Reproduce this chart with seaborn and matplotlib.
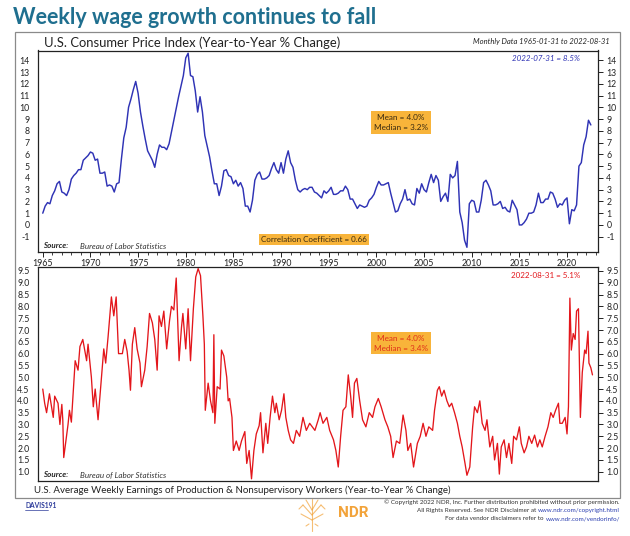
import numpy as np
import pandas as pd
import matplotlib
matplotlib.use("Agg")
import matplotlib.pyplot as plt
import seaborn as sns
from matplotlib.patches import Rectangle
from matplotlib.lines import Line2D

# ---------------- data ----------------
cpi_by_year = {
    1965: [1.0, 1.6, 1.9, 1.8], 1966: [2.5, 2.9, 3.5, 3.7], 1967: [2.8, 2.7, 2.5, 3.0],
    1968: [3.9, 4.2, 4.4, 4.7], 1969: [4.7, 5.5, 5.7, 5.9], 1970: [6.2, 6.1, 5.5, 5.6],
    1971: [4.4, 4.4, 4.5, 3.3], 1972: [3.4, 3.3, 2.8, 3.5], 1973: [3.6, 5.6, 7.4, 8.3],
    1974: [10.0, 10.7, 11.5, 12.2], 1975: [11.2, 9.6, 8.4, 7.3], 1976: [6.3, 5.9, 5.5, 4.9],
    1977: [6.0, 6.8, 6.6, 6.6], 1978: [6.4, 6.9, 7.9, 8.9], 1979: [9.9, 10.9, 11.8, 12.7],
    1980: [14.2, 14.6, 12.7, 12.6], 1981: [11.4, 9.6, 10.9, 9.6], 1982: [7.6, 6.7, 5.8, 4.6],
    1983: [3.5, 3.5, 2.5, 3.3], 1984: [4.6, 4.7, 4.2, 4.1], 1985: [3.5, 3.8, 3.3, 3.6],
    1986: [3.1, 1.6, 1.6, 1.1], 1987: [2.1, 3.8, 4.3, 4.5], 1988: [3.9, 3.9, 4.0, 4.2],
    1989: [4.8, 5.3, 4.7, 4.4], 1990: [5.3, 4.4, 5.6, 6.3], 1991: [5.3, 4.9, 3.8, 3.0],
    1992: [2.8, 3.0, 3.1, 3.0], 1993: [3.2, 3.2, 2.8, 2.7], 1994: [2.5, 2.3, 2.9, 2.7],
    1995: [2.9, 3.2, 2.6, 2.6], 1996: [2.7, 2.9, 2.9, 3.3], 1997: [3.0, 2.2, 2.2, 1.8],
    1998: [1.4, 1.7, 1.6, 1.5], 1999: [1.6, 2.1, 2.3, 2.6], 2000: [3.2, 3.7, 3.4, 3.4],
    2001: [3.5, 3.6, 2.7, 1.9], 2002: [1.1, 1.2, 1.8, 2.2], 2003: [3.0, 2.1, 2.2, 1.8],
    2004: [1.7, 3.1, 2.7, 3.5], 2005: [3.0, 2.8, 3.6, 4.3], 2006: [3.6, 4.2, 3.8, 2.0],
    2007: [2.4, 2.7, 2.0, 4.3], 2008: [4.0, 4.2, 5.4, 1.1], 2009: [0.2, -1.3, -1.9, 1.8],
    2010: [2.1, 2.0, 1.1, 1.1], 2011: [2.1, 3.6, 3.8, 3.4], 2012: [2.9, 1.7, 1.7, 1.8],
    2013: [2.0, 1.4, 1.5, 1.2], 2014: [1.1, 2.1, 1.7, 1.3], 2015: [0.0, 0.0, 0.2, 0.5],
    2016: [1.0, 1.0, 1.1, 1.7], 2017: [2.7, 1.9, 1.9, 2.2], 2018: [2.2, 2.8, 2.7, 2.2],
    2019: [1.5, 1.8, 1.7, 2.1], 2020: [2.3, 0.1, 1.3, 1.2], 2021: [1.7, 5.0, 5.3, 6.8],
    2022: [7.5, 8.9, 8.5],
}
cpi_dates = []
cpi_values = []
for yr, vals in cpi_by_year.items():
    for q, v in enumerate(vals):
        cpi_dates.append(yr + 0.25 * q)
        cpi_values.append(v)

wage_dates = [
    1965.0, 1965.2, 1965.4, 1965.7, 1966.1, 1966.25, 1966.6, 1966.8, 1967.0, 1967.1, 1967.2,
    1967.65, 1967.8, 1968.0, 1968.4, 1968.7, 1968.9, 1969.2, 1969.6, 1969.75, 1970.1, 1970.3,
    1970.5, 1970.8, 1971.2, 1971.4, 1971.6, 1971.85, 1972.2, 1972.45, 1972.7, 1972.95, 1973.35,
    1973.6, 1973.85, 1974.05, 1974.2, 1974.4, 1974.65, 1974.9, 1975.2, 1975.35, 1975.7, 1975.95,
    1976.2, 1976.5, 1976.75, 1977.0, 1977.2, 1977.45, 1977.7, 1978.0, 1978.3, 1978.5, 1978.75,
    1979.0, 1979.3, 1979.55, 1979.7, 1980.0, 1980.25, 1980.5, 1980.8, 1981.05, 1981.3, 1981.55,
    1981.8, 1981.95, 1982.05, 1982.35, 1982.6, 1982.85, 1982.95, 1983.05, 1983.3, 1983.6,
    1983.75, 1984.0, 1984.3, 1984.45, 1984.6, 1984.85, 1985.0, 1985.3, 1985.6, 1985.85, 1986.2,
    1986.4, 1986.65, 1986.9, 1987.15, 1987.4, 1987.7, 1987.85, 1988.1, 1988.4, 1988.6, 1988.85,
    1989.1, 1989.35, 1989.5, 1989.8, 1990.05, 1990.3, 1990.5, 1990.75, 1991.0, 1991.3, 1991.6,
    1991.95, 1992.3, 1992.65, 1993.0, 1993.55, 1993.9, 1994.1, 1994.4, 1994.8, 1995.1, 1995.5,
    1995.75, 1996.0, 1996.25, 1996.5, 1996.8, 1997.05, 1997.3, 1997.5, 1997.7, 1997.95, 1998.25,
    1998.55, 1998.9, 1999.25, 1999.6, 1999.85, 2000.2, 2000.5, 2000.9, 2001.2, 2001.5, 2001.75,
    2002.1, 2002.45, 2002.8, 2003.1, 2003.3, 2003.6, 2003.9, 2004.3, 2004.6, 2004.9, 2005.2,
    2005.5, 2005.9, 2006.1, 2006.4, 2006.6, 2006.85, 2007.1, 2007.4, 2007.65, 2007.9, 2008.2,
    2008.5, 2008.75, 2009.0, 2009.3, 2009.5, 2009.8, 2010.1, 2010.3, 2010.6, 2010.85, 2011.1,
    2011.4, 2011.6, 2011.9, 2012.2, 2012.4, 2012.7, 2012.9, 2013.1, 2013.4, 2013.65, 2013.9,
    2014.2, 2014.4, 2014.7, 2015.0, 2015.2, 2015.5, 2015.75, 2016.0, 2016.3, 2016.6, 2016.9,
    2017.15, 2017.4, 2017.7, 2018.0, 2018.3, 2018.55, 2018.8, 2019.1, 2019.25, 2019.5, 2019.8,
    2020.0, 2020.15, 2020.3, 2020.45, 2020.65, 2020.85, 2021.0, 2021.2, 2021.4, 2021.6, 2021.85,
    2022.0, 2022.2, 2022.3, 2022.5, 2022.67,
]
wage_values = [
    4.5, 3.9, 3.5, 4.3, 3.3, 4.2, 3.9, 3.0, 3.85, 3.2, 1.6,
    3.0, 3.6, 3.1, 5.7, 5.3, 6.3, 6.6, 5.7, 6.4, 5.0, 3.75,
    4.5, 3.2, 5.2, 6.2, 5.6, 6.7, 8.4, 7.6, 8.4, 6.0, 6.0,
    6.6, 6.1, 5.3, 4.45, 6.4, 7.1, 6.2, 5.6, 4.6, 5.3, 6.3,
    7.7, 7.3, 6.6, 5.3, 7.6, 7.15, 7.8, 6.2, 7.4, 8.0, 7.85,
    9.2, 5.7, 7.1, 7.7, 6.2, 7.9, 5.7, 7.9, 9.25, 9.6, 9.3,
    7.6, 6.4, 3.6, 4.75, 4.0, 3.5, 6.8, 3.05, 4.6, 4.5,
    6.15, 5.9, 5.0, 4.0, 4.1, 3.3, 1.9, 2.3, 1.9, 2.3, 2.7,
    1.35, 1.9, 0.7, 1.9, 2.6, 2.95, 3.5, 1.8, 3.05, 2.2, 3.3,
    4.2, 3.5, 3.9, 3.2, 3.6, 4.3, 3.3, 2.75, 2.35, 2.2, 2.75,
    2.5, 3.3, 2.75, 3.05, 2.75, 3.2, 3.5, 3.05, 3.3, 2.75, 2.35,
    1.9, 1.2, 2.5, 3.6, 3.75, 5.1, 4.2, 3.3, 4.75, 4.95, 4.0,
    3.2, 2.9, 3.5, 3.3, 3.75, 4.1, 3.75, 3.2, 2.9, 2.5, 1.6,
    2.3, 2.2, 3.4, 2.75, 1.9, 2.2, 1.2, 2.2, 2.5, 3.05, 2.5,
    2.9, 2.75, 3.6, 4.45, 4.6, 4.2, 4.45, 4.0, 3.75, 3.9, 3.5,
    3.05, 2.5, 2.05, 1.35, 0.85, 1.2, 2.9, 3.75, 3.5, 4.0, 3.05,
    2.75, 3.2, 2.05, 2.5, 1.5, 2.2, 0.9, 2.05, 2.35, 1.6, 2.2,
    1.35, 2.5, 2.35, 2.9, 2.2, 1.8, 2.05, 2.5, 2.2, 2.55, 2.05,
    2.35, 2.05, 2.5, 2.9, 3.5, 3.3, 3.6, 3.9, 3.05, 3.05, 3.3,
    2.6, 3.75, 8.35, 6.15, 6.85, 6.6, 7.8, 7.9, 3.3, 5.2, 6.15,
    6.0, 6.95, 5.6, 5.4, 5.1,
]

year_ticks = list(range(1965, 2021, 5))
cpi_ticks = list(range(-1, 15))
wage_ticks = [1.0, 1.5, 2.0, 2.5, 3.0, 3.5, 4.0, 4.5, 5.0, 5.5, 6.0, 6.5, 7.0, 7.5, 8.0, 8.5, 9.0, 9.5]

cpi_df = pd.DataFrame({"date": cpi_dates, "cpi": cpi_values})
wage_df = pd.DataFrame({"date": wage_dates, "wage": wage_values})

# ---------------- style ----------------
sns.set_theme(style="white")
plt.rcParams["font.family"] = ["Lato", "DejaVu Sans"]

W, H = 630, 536
fig = plt.figure(figsize=(6.3, 5.36), dpi=100)

def fx(px):
    return px / W

def fy(py):
    return 1 - py / H

BLUE = "#2f33b5"
RED = "#e3161b"
ORANGE = "#f8b43a"
TEAL = "#1f6f8f"

# outer frame
fig.patches.append(Rectangle((fx(15), fy(498)), fx(620) - fx(15), fy(32) - fy(498),
                             transform=fig.transFigure, fill=False, edgecolor="#8a8a8a",
                             linewidth=0.9))

ax1 = fig.add_axes([fx(38), fy(252), fx(598) - fx(38), fy(50.5) - fy(252)])
ax2 = fig.add_axes([fx(38), fy(480.7), fx(598) - fx(38), fy(266.7) - fy(480.7)])

sns.lineplot(data=cpi_df, x="date", y="cpi", ax=ax1, color=BLUE, linewidth=1.05)
sns.lineplot(data=wage_df, x="date", y="wage", ax=ax2, color=RED, linewidth=0.95)

for ax in (ax1, ax2):
    ax.set_xlim(1964.5, 2023.25)
    ax.set_xlabel("")
    ax.set_ylabel("")
    for sp in ax.spines.values():
        sp.set_color("#222222")
        sp.set_linewidth(0.9)
    ax.tick_params(axis="y", which="both", left=False, right=True, labelleft=True,
                   labelright=True, direction="out", length=3.5, width=0.7,
                   color="#222222", labelsize=6.3, pad=2.5, labelcolor="#222222")

ax1.set_ylim(-2.3, 14.83)
ax1.set_yticks(cpi_ticks)
ax1.set_yticklabels([str(t) for t in cpi_ticks])
ax1.set_xticks(year_ticks)
ax1.set_xticks(list(range(1965, 2024)), minor=True)
ax1.set_xticklabels([str(t) for t in year_ticks])
ax1.tick_params(axis="x", which="major", bottom=True, direction="out", length=3.5,
                width=0.7, color="#222222", labelsize=6.3, pad=1.5, labelcolor="#222222")
ax1.tick_params(axis="x", which="minor", bottom=True, direction="out", length=2,
                width=0.6, color="#222222")

ax2.set_ylim(0.62, 9.68)
ax2.set_yticks(wage_ticks)
ax2.set_yticklabels([f"{t:.1f}" for t in wage_ticks])
ax2.set_xticks([])
ax2.tick_params(axis="x", bottom=False, labelbottom=False)

# annotations
ax1.text(0.968, 0.962, "2022-07-31 = 8.5%", transform=ax1.transAxes, ha="right",
         va="center", color=BLUE, fontsize=5.8, style="italic")
ax2.text(0.968, 0.961, "2022-08-31 = 5.1%", transform=ax2.transAxes, ha="right",
         va="center", color=RED, fontsize=5.8)

box = dict(boxstyle="square,pad=0.35", facecolor=ORANGE, edgecolor="none")
ax1.text(0.648, 0.642, "Mean = 4.0%\nMedian = 3.2%", transform=ax1.transAxes, ha="center",
         va="center", color="#3a2a10", fontsize=5.9, bbox=box, linespacing=1.5)
ax2.text(0.648, 0.643, "Mean = 4.0%\nMedian = 3.4%", transform=ax2.transAxes, ha="center",
         va="center", color="#e0301a", fontsize=5.9, bbox=box, linespacing=1.5)
ax1.text(0.493, 0.062, "Correlation Coefficient = 0.66", transform=ax1.transAxes,
         ha="center", va="center", color="#3a2a10", fontsize=5.8,
         bbox=dict(boxstyle="square,pad=0.25", facecolor=ORANGE, edgecolor="none"))

for ax, yy in ((ax1, 0.03), (ax2, 0.027)):
    ax.text(0.009, yy, "Source:", transform=ax.transAxes, ha="left", va="center",
            fontsize=5.8, style="italic", fontweight="bold", color="#222222")
    ax.text(0.075, yy, "Bureau of Labor Statistics", transform=ax.transAxes, ha="left",
            va="center", fontsize=5.8, style="italic", color="#333333")

# titles
fig.text(fx(13), fy(17), "Weekly wage growth continues to fall", ha="left", va="center",
         fontsize=15.5, color=TEAL, fontweight="bold", family=["Lato", "DejaVu Sans"])
fig.text(fx(44), fy(43), "U.S. Consumer Price Index (Year-to-Year % Change)", ha="left",
         va="center", fontsize=9.4, color="#222222")
fig.text(fx(610), fy(41.5), "Monthly Data 1965-01-31 to 2022-08-31", ha="right",
         va="center", fontsize=5.5, color="#222222", style="italic")
fig.text(fx(34), fy(490), "U.S. Average Weekly Earnings of Production & Nonsupervisory "
         "Workers (Year-to-Year % Change)", ha="left", va="center", fontsize=7.0,
         color="#222222")

# footer
fig.text(fx(25), fy(506), "DAVIS191", ha="left", va="center", fontsize=4.8,
         color="#2b3a9a", fontweight="bold")
fig.lines.append(Line2D([fx(25), fx(48)], [fy(509.5), fy(509.5)], transform=fig.transFigure,
                        color="#2b3a9a", linewidth=0.5))

NDR_OR = "#f2a33a"
fig.text(fx(338), fy(513), "NDR", ha="left", va="center", fontsize=11, color=NDR_OR,
         fontweight="bold", family=["Roboto", "DejaVu Sans"])
# simple tree logo strokes
tree = [
    ([312, 312], [499, 531]),
    ([312, 303], [515, 505]), ([312, 321], [515, 505]),
    ([312, 301], [520, 514]), ([312, 323], [520, 514]),
    ([312, 306], [510, 500]), ([312, 318], [510, 500]),
    ([303, 299], [505, 509]), ([321, 325], [505, 509]),
    ([306, 309], [526, 524]), ([318, 315], [526, 524]),
]
for xs, ys in tree:
    fig.lines.append(Line2D([fx(v) for v in xs], [fy(v) for v in ys],
                            transform=fig.transFigure, color=NDR_OR, linewidth=0.8,
                            alpha=0.7))

fig.canvas.draw()
renderer = fig.canvas.get_renderer()
foot_lines = [
    (502, "\u00a9 Copyright 2022 NDR, Inc. Further distribution prohibited without prior permission.", ""),
    (510.5, "All Rights Reserved. See NDR Disclaimer at ", "www.ndr.com/copyright.html"),
    (519, "For data vendor disclaimers refer to ", "www.ndr.com/vendorinfo/"),
]
for yy, plain, link in foot_lines:
    xr = fx(620)
    if link:
        lt = fig.text(xr, fy(yy), link, ha="right", va="center", fontsize=4.5,
                      color="#2b3fb0")
        bb = lt.get_window_extent(renderer)
        xr = bb.x0 / W
    fig.text(xr, fy(yy), plain, ha="right", va="center", fontsize=4.5, color="#333333")

fig.savefig("out.png", dpi=100)
